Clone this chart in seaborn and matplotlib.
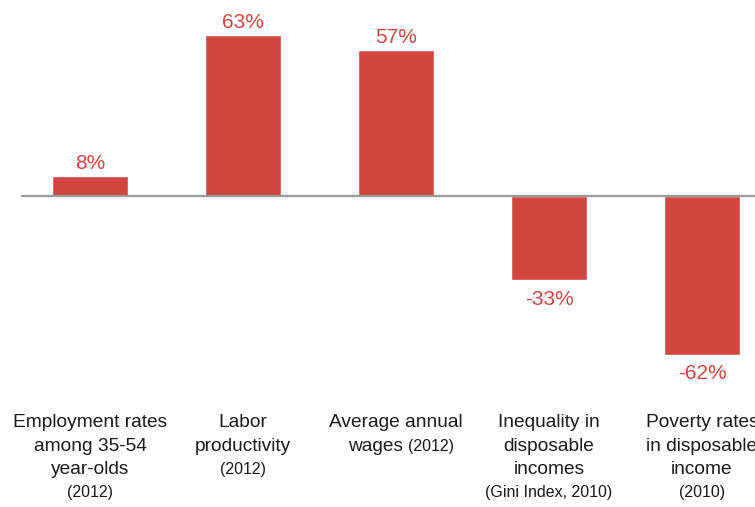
import matplotlib
matplotlib.use("Agg")
import matplotlib.pyplot as plt
import matplotlib.transforms as mtransforms
import seaborn as sns
import pandas as pd

# Percentage change by indicator
categories = ["Employment", "Productivity", "Wages", "Inequality", "Poverty"]
values = [8, 63, 57, -33, -62]
label_lines = [
    ["Employment rates", "among 35-54", "year-olds"],
    ["Labor", "productivity"],
    ["Average annual", "wages"],
    ["Inequality in", "disposable", "incomes"],
    ["Poverty rates", "in disposable", "income"],
]
notes = ["(2012)", "(2012)", "(2012)", "(Gini Index, 2010)", "(2010)"]
note_inline = [False, False, True, False, False]

BAR_COLOR = "#D34640"
TEXT_COLOR = "#1a1a1a"
FONT = "Liberation Sans"

sns.set_theme(style="white")
plt.rcParams["font.family"] = [FONT, "DejaVu Sans"]

W, H = 755, 507
fig = plt.figure(figsize=(W / 100, H / 100), dpi=100)
ax = fig.add_axes([0, 0, 1, 1])

df = pd.DataFrame({"category": categories, "value": values})
sns.barplot(data=df, x="category", y="value", color=BAR_COLOR, width=0.5,
            saturation=1, ax=ax, zorder=2)

# layout: category spacing of 153 px, first centre at 90 px; zero at 196 px
step, x0 = 153.0, 90.0
ax.set_xlim(-x0 / step, (W - x0) / step)
ppu = 2.56
zero_px = 196.0
ax.set_ylim(-(H - zero_px) / ppu, zero_px / ppu)
ax.axis("off")

ax.axhline(0, xmin=22 / W, xmax=1, color="#9a9a9a", lw=1.6, zorder=3)

# value labels
VAL_FS = 15
for i, v in enumerate(values):
    if v >= 0:
        ax.annotate(f"{v}%", (i, v), xytext=(0, 5.0), textcoords="offset points",
                    ha="center", va="baseline", fontsize=VAL_FS, color=BAR_COLOR)
    else:
        ax.annotate(f"{v}%", (i, v), xytext=(0, -6.8), textcoords="offset points",
                    ha="center", va="top", fontsize=VAL_FS, color=BAR_COLOR)

# category labels below the chart
trans = mtransforms.blended_transform_factory(ax.transData, fig.transFigure)
baselines = [427, 451, 474, 497]
MAIN_FS, NOTE_FS = 13.8, 11.5

def yfig(px):
    return 1 - px / H

inline_pairs = []
for i, lines in enumerate(label_lines):
    n = len(lines)
    for j, line in enumerate(lines):
        if note_inline[i] and j == n - 1:
            t1 = ax.text(i, yfig(baselines[j]), line + " ", transform=trans,
                         ha="left", va="baseline", fontsize=MAIN_FS, color=TEXT_COLOR)
            t2 = ax.text(i, yfig(baselines[j]), notes[i], transform=trans,
                         ha="left", va="baseline", fontsize=NOTE_FS, color=TEXT_COLOR)
            inline_pairs.append((i, t1, t2))
        else:
            ax.text(i, yfig(baselines[j]), line, transform=trans, ha="center",
                    va="baseline", fontsize=MAIN_FS, color=TEXT_COLOR)
    if not note_inline[i]:
        ax.text(i, yfig(baselines[n]), notes[i], transform=trans, ha="center",
                va="baseline", fontsize=NOTE_FS, color=TEXT_COLOR)

# centre the mixed-size lines as one unit
fig.canvas.draw()
renderer = fig.canvas.get_renderer()
for i, t1, t2 in inline_pairs:
    w1 = t1.get_window_extent(renderer).width
    w2 = t2.get_window_extent(renderer).width
    total = w1 + w2
    cx = ax.transData.transform((i, 0))[0] + 5
    left = cx - total / 2
    inv = ax.transData.inverted()
    x1 = inv.transform((left, 0))[0]
    x2 = inv.transform((left + w1, 0))[0]
    t1.set_x(x1)
    t2.set_x(x2)

fig.savefig("out.png", dpi=100)
